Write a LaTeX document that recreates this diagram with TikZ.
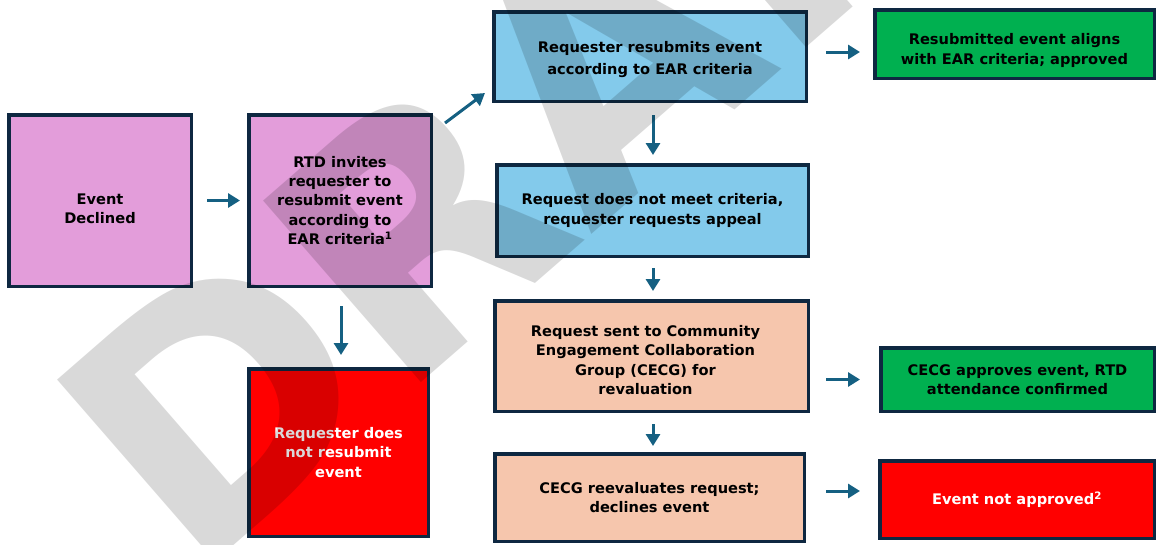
\documentclass[tikz,border=0pt]{standalone}
\usepackage{fontspec}
\setmainfont{DejaVu Sans}
\usetikzlibrary{arrows.meta,calc}
\definecolor{boxline}{RGB}{14,40,65}
\definecolor{arrowc}{RGB}{21,96,130}
\definecolor{pinkf}{RGB}{227,157,218}
\definecolor{bluef}{RGB}{131,202,235}
\definecolor{greenf}{RGB}{0,176,80}
\definecolor{peachf}{RGB}{246,198,173}
\definecolor{redf}{RGB}{255,0,0}
\begin{document}
\begin{tikzpicture}[x=1pt,y=-1pt,
  txt/.style={align=center,inner sep=0pt,font=\bfseries\fontsize{14.6}{19.3}\selectfont},
  box/.style={draw=boxline,line width=3.5pt,txt},
  arr/.style={draw=arrowc,line width=3pt,-{Triangle[length=12pt,width=14pt]}}]
\useasboundingbox (0,0) rectangle (1156,544);
\fill[white] (0,0) rectangle (1156,544);
% boxes (outer size minus line width)
\node[box,fill=pinkf,minimum width=182.5pt,minimum height=171.5pt,
  label={[txt,yshift=-8.5pt]center:{Event\\Declined}}] (ed) at (100,200.5) {};
\node[box,fill=pinkf,minimum width=182.5pt,minimum height=171.5pt] (rtd) at (340,200.5) {RTD invites\\requester to\\resubmit event\\according to\\EAR criteria\textsuperscript{1}};
\node[box,fill=bluef,minimum width=312.5pt,minimum height=89.5pt,
  label={[txt,font=\bfseries\fontsize{14.6}{22}\selectfont,yshift=-3.5pt]center:{Requester resubmits event\\according to EAR criteria}}] (rr) at (650,56.5) {};
\node[box,fill=greenf,minimum width=279.5pt,minimum height=68.5pt,
  label={[txt,yshift=-6.5pt]center:{Resubmitted event aligns\\with EAR criteria; approved}}] (ok1) at (1014.5,44) {};
\node[box,fill=bluef,minimum width=311.5pt,minimum height=91.5pt] (nm) at (652.5,210.5) {Request does not meet criteria,\\requester requests appeal};
\node[box,fill=peachf,minimum width=313.5pt,minimum height=110.5pt,
  label={[txt,yshift=-4pt,xshift=-6pt]center:{Request sent to Community\\Engagement Collaboration\\Group (CECG) for\\revaluation}}] (cecg) at (651.5,356) {};
\node[box,fill=greenf,minimum width=273.5pt,minimum height=63.5pt] (ok2) at (1017.5,379.5) {CECG approves event, RTD\\attendance confirmed};
\node[box,fill=peachf,minimum width=309.5pt,minimum height=87.5pt] (reev) at (649.5,497.5) {CECG reevaluates request;\\declines event};
\node[box,fill=redf,text=white,minimum width=274.5pt,minimum height=77.5pt] (na) at (1017,499.5) {Event not approved\textsuperscript{2}};
\node[box,fill=redf,text=white,minimum width=179.5pt,minimum height=167.5pt] (nr) at (338.5,452.5) {Requester does\\not resubmit\\event};
% arrows
\draw[arr,shorten <=14pt,shorten >=7pt] (ed.east) -- (rtd.west);
\draw[arr] ($(rtd.north east)+(12,10)$) -- ($(rr.south west)+(-7,-10)$);
\draw[arr] ($(rr.east)+(18,-4.5)$) -- ($(ok1.west |- rr.east)+(-13,-4.5)$);
\draw[arr] ($(rr.south)+(3,12)$) -- ($(nm.north)+(0.5,-8)$);
\draw[arr] ($(nm.south)+(0.5,10)$) -- ($(cecg.north)+(1.5,-8)$);
\draw[arr] ($(cecg.south)+(1.5,11)$) -- ($(reev.north)+(3.5,-6)$);
\draw[arr,shorten <=16pt,shorten >=19pt] (cecg.east |- ok2.west) -- (ok2.west);
\draw[arr] ($(reev.east)+(20,-6.5)$) -- ($(na.west |- reev.east)+(-18,-6.5)$);
\draw[arr] ($(rtd.south)+(1,18)$) -- ($(nr.north)+(2.5,-12)$);
% watermark
\begin{scope}
\clip (0,0) rectangle (1156,544);
\node[anchor=base west,rotate=41,inner sep=0pt,text=black,text opacity=0.15,
  font=\bfseries\fontsize{330}{330}\selectfont] (wm) at (192,582) {DRAFT};
\end{scope}
\end{tikzpicture}
\end{document}
